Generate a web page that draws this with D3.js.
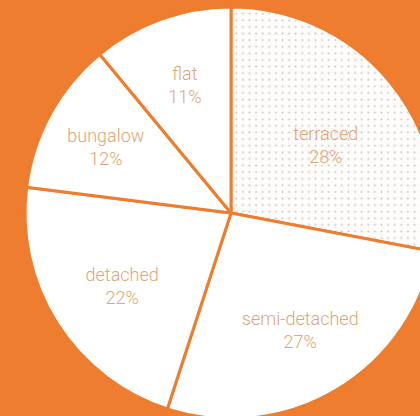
<!DOCTYPE html>
<html>
<head>
<meta charset="utf-8">
<script src="https://cdn.jsdelivr.net/npm/d3@7"></script>
<style>
  html, body { margin: 0; padding: 0; background: #ee7d2f; }
  svg { display: block; }
</style>
</head>
<body>
<div id="pie_div"></div>
<script>
// housing types, clockwise from 12 o'clock
var categories = ['terraced', 'semi-detached', 'detached', 'bungalow', 'flat'];
var shares = [28, 27, 22, 12, 11];
var pctLabels = ['28%', '27%', '22%', '12%', '11%'];

var width = 420, height = 416;
var cx = 231, cy = 213, radius = 206;

var svg = d3.select('#pie_div').append('svg')
    .attr('width', width)
    .attr('height', height);

svg.append('rect')
    .attr('width', width)
    .attr('height', height)
    .attr('fill', '#ee7d2f');

// dotted fill for the terraced slice
var defs = svg.append('defs');
var pat = defs.append('pattern')
    .attr('id', 'dots')
    .attr('patternUnits', 'userSpaceOnUse')
    .attr('width', 6.6)
    .attr('height', 6.6)
    .attr('x', cx + 2)
    .attr('y', 2);
pat.append('rect')
    .attr('width', 6.6)
    .attr('height', 6.6)
    .attr('fill', '#fdfcfa');
pat.append('circle')
    .attr('cx', 3.3)
    .attr('cy', 3.3)
    .attr('r', 0.9)
    .attr('fill', '#c4c1bd');

var g = svg.append('g')
    .attr('transform', 'translate(' + cx + ',' + cy + ')');

var data = categories.map(function(c, i) { return { name: c, value: shares[i], pct: pctLabels[i] }; });

var pie = d3.pie()
    .value(function(d) { return d.value; })
    .sort(null);

var arc = d3.arc()
    .innerRadius(0)
    .outerRadius(radius);

var labelArc = d3.arc()
    .innerRadius(136)
    .outerRadius(136);

var arcs = pie(data);

g.selectAll('path')
  .data(arcs)
  .join('path')
    .attr('d', arc)
    .attr('fill', function(d) { return d.data.name == 'terraced' ? 'url(#dots)' : '#ffffff'; })
    .attr('stroke', '#ee7d2f')
    .attr('stroke-width', 3)
    .attr('stroke-linejoin', 'round');

// terraced label sits a bit closer in
var labels = g.selectAll('g.lbl')
  .data(arcs)
  .join('g')
    .attr('class', 'lbl')
    .attr('transform', function(d) {
      var c = labelArc.centroid(d);
      if (d.data.name == 'terraced') { c = [c[0] - 10, c[1] + 19]; }
      if (d.data.name == 'bungalow') { c = [c[0] - 6, c[1]]; }
      if (d.data.name == 'detached') { c = [c[0] + 6, c[1]]; }
      return 'translate(' + c[0] + ',' + c[1] + ')';
    });

labels.append('text')
    .attr('text-anchor', 'middle')
    .attr('y', -5)
    .style('font-family', 'Roboto, "Liberation Sans", sans-serif')
    .style('font-weight', 300)
    .style('font-size', '18px')
    .style('fill', '#e2a577')
    .text(function(d) { return d.data.name; });

labels.append('text')
    .attr('text-anchor', 'middle')
    .attr('y', 18)
    .style('font-family', 'Roboto, "Liberation Sans", sans-serif')
    .style('font-weight', 300)
    .style('font-size', '18px')
    .style('fill', '#e2a577')
    .text(function(d) { return d.data.pct; });
</script>
</body>
</html>
